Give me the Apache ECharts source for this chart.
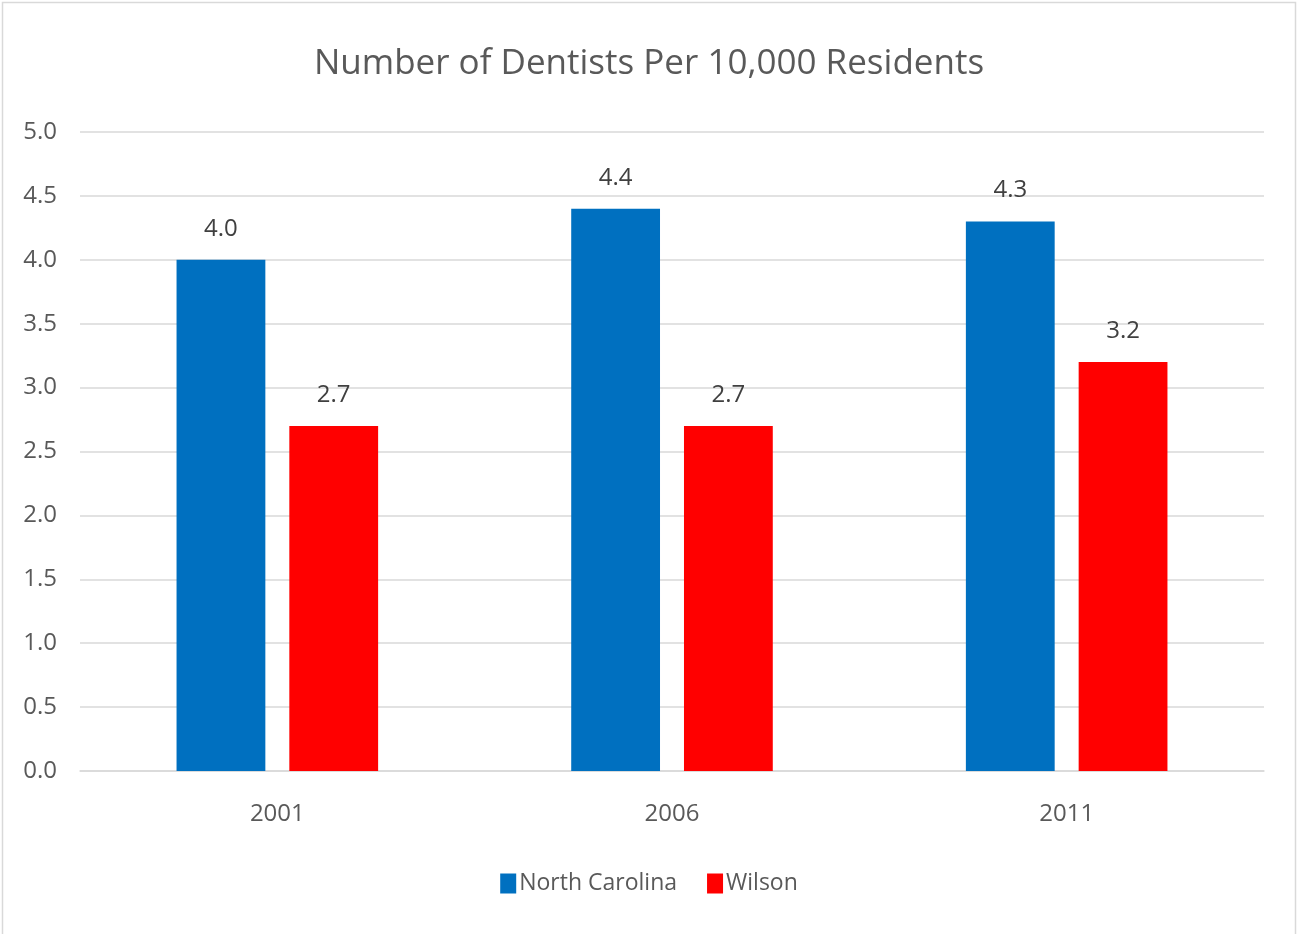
<!DOCTYPE html>
<html><head><meta charset="utf-8">
<script src="https://cdn.jsdelivr.net/npm/echarts@6/dist/echarts.min.js"></script>
<style>html,body{margin:0;padding:0;background:#fff}#c{width:1298px;height:934px}</style>
</head><body><div id="c"></div>
<script>
const categories = ['2001', '2006', '2011'];
const northCarolina = [4.0, 4.4, 4.3];
const wilson = [2.7, 2.7, 3.2];
const yTicks = [0, 0.5, 1, 1.5, 2, 2.5, 3, 3.5, 4, 4.5, 5];
const FONT = '"Liberation Sans Narrow", "Open Sans", sans-serif';
const chart = echarts.init(document.getElementById('c'));
const lbl = {show: true, position: 'top', distance: 19, color: '#404040', fontSize: 24, fontFamily: FONT,
  formatter: p => p.value.toFixed(1)};
chart.setOption({
  animation: false,
  graphic: [{type: 'rect', shape: {x: 2.5, y: 2.5, width: 1293, height: 940}, style: {fill: 'none', stroke: '#d9d9d9', lineWidth: 1.5}}],
  title: {text: 'Number of Dentists Per 10,000 Residents', left: 'center', top: 42,
    textStyle: {fontFamily: FONT, fontSize: 35, fontWeight: 'normal', color: '#595959'}},
  legend: {bottom: 34, left: 'center', itemWidth: 16, itemHeight: 20, itemGap: 30,
    textStyle: {fontFamily: FONT, fontSize: 23, color: '#595959', padding: [0, 0, 0, -2]},
    data: [{name: 'North Carolina', icon: 'rect'}, {name: 'Wilson', icon: 'rect'}]},
  grid: {left: 80, right: 34, top: 132, bottom: 163, containLabel: false},
  xAxis: {type: 'category', data: categories,
    axisLine: {lineStyle: {color: '#d9d9d9', width: 1.5}}, axisTick: {show: false},
    axisLabel: {fontFamily: FONT, fontSize: 24, color: '#595959', margin: 31}},
  yAxis: {type: 'value', min: 0, max: 5, interval: 0.5,
    axisLine: {show: false}, axisTick: {show: false},
    splitLine: {lineStyle: {color: '#d9d9d9', width: 1.5}},
    axisLabel: {fontFamily: FONT, fontSize: 24, color: '#595959', margin: 23,
      formatter: v => { const t = yTicks.find(x => Math.abs(x - v) < 1e-9); return (t !== undefined ? t : v).toFixed(1); }}},
  series: [
    {name: 'North Carolina', type: 'bar', data: northCarolina, barWidth: '22.5%', barGap: '27%',
      itemStyle: {color: '#0070c0'}, label: lbl},
    {name: 'Wilson', type: 'bar', data: wilson, barWidth: '22.5%',
      itemStyle: {color: '#ff0000'}, label: lbl}
  ]
});
</script></body></html>
